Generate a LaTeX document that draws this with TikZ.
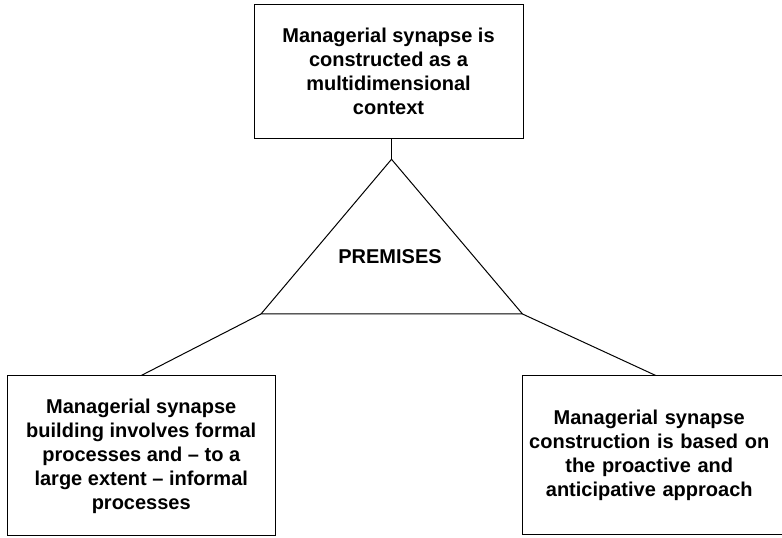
\documentclass[tikz,border=0pt]{standalone}
\usepackage{fontspec}
\setmainfont{Liberation Sans}
\begin{document}
\begin{tikzpicture}[x=1pt,y=1pt,
  box/.style={draw=black,line width=1pt,inner sep=0pt,align=center,
    font=\bfseries\fontsize{20}{24}\selectfont},
  conn/.style={draw=black,line width=1pt}]
\useasboundingbox (0,0) rectangle (782,538);
\clip (0,0) rectangle (782,538);
\node[box,minimum width=269pt,minimum height=134pt] (top) at (388.5,466.3)
  {Managerial synapse is\\constructed as a\\multidimensional\\context};
\node[box,minimum width=267.5pt,minimum height=160pt] (lbox) at (141.25,82)
  {Managerial synapse\\building involves formal\\processes and -- to a\\large extent -- informal\\processes};
\node[box,minimum width=261.5pt,minimum height=159pt,text width=255pt] (rbox) at (653.25,82.5)
  {\hspace*{-8pt}Managerial synapse\\\hspace*{-8pt}construction is based on\\\hspace*{-8pt}the proactive and\\\hspace*{-8pt}anticipative approach};
\coordinate (apex) at (391.5,378.7);
\coordinate (bl) at (261,224);
\coordinate (br) at (522.5,224);
\draw[conn,line join=miter] (apex) -- (bl) -- (br) -- cycle;
\node[font=\bfseries\fontsize{20}{24}\selectfont] (prem) at (390,281.3) {PREMISES};
\draw[conn] (apex) -- (apex |- top.south);
\draw[conn] (bl) -- (lbox.north);
\draw[conn] (br) -- ([xshift=2.5pt]rbox.north);
\end{tikzpicture}
\end{document}
